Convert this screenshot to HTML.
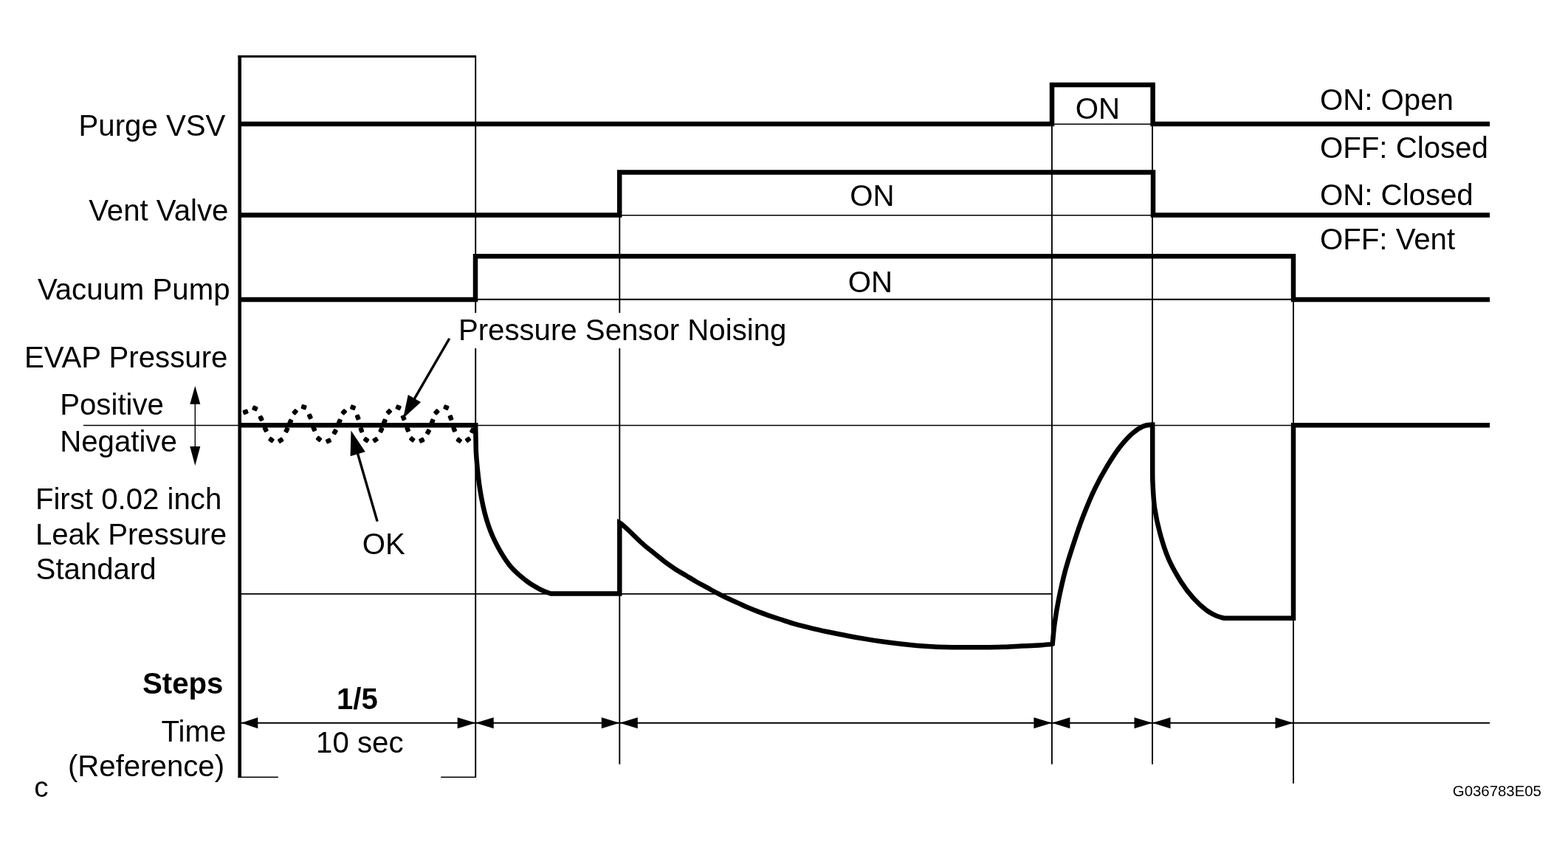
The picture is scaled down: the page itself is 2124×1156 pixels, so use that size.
<!DOCTYPE html>
<html><head><meta charset="utf-8">
<style>
html,body{margin:0;padding:0;background:#fff;}
svg{display:block;}
text{font-family:"Liberation Sans",Arial,Helvetica,sans-serif;fill:#000;}
.t{font-size:40.2px;}
.b{font-size:40.2px;font-weight:bold;}
.c{font-size:38.5px;}
.s{font-size:20.4px;}
.thin{stroke:#000;stroke-width:1.9;fill:none;}
.hair{stroke:#000;stroke-width:1.4;fill:none;}
.thick{stroke:#000;stroke-width:6.5;fill:none;stroke-linejoin:miter;}
.med{stroke:#000;stroke-width:4.6;fill:none;}
</style></head><body>
<svg width="2124" height="1156" viewBox="0 0 2124 1156">
<rect width="2124" height="1156" fill="#fff"/>
<g class="thin">
<line x1="644.2" y1="76" x2="644.2" y2="1053.5"/>
<line x1="839.3" y1="291.6" x2="839.3" y2="1035.7"/>
<line x1="1424.9" y1="167.9" x2="1424.9" y2="1035.7"/>
<line x1="1561.0" y1="167.9" x2="1561.0" y2="1035.7"/>
<line x1="1752.0" y1="405.9" x2="1752.0" y2="1061.8"/>
<line x1="325" y1="979.7" x2="2018" y2="979.7"/>
<line x1="325" y1="804.9" x2="1424.9" y2="804.9"/>
<line x1="644.2" y1="405.79999999999995" x2="1752.0" y2="405.79999999999995"/>
</g>
<g class="hair">
<line x1="1424.9" y1="168.25" x2="1561.0" y2="168.25"/>
<line x1="839.3" y1="291.75" x2="1561.0" y2="291.75"/>
<line x1="113" y1="576.55" x2="1752.0" y2="576.55"/>
<line x1="322.5" y1="1053.3" x2="376.8" y2="1053.3"/>
<line x1="597.2" y1="1053.3" x2="645" y2="1053.3"/>
<line x1="264.3" y1="540" x2="264.3" y2="612"/>
</g>
<line x1="322.5" y1="76.5" x2="645" y2="76.5" stroke="#000" stroke-width="3.2"/>
<line x1="324.7" y1="75" x2="324.7" y2="1053.8" class="med"/>
<path class="thick" d="M325 167.9H1425V115.0H1561.6V167.9H2018"/>
<path class="thick" d="M325 291.6H839.2V233.5H1562V291.6H2018"/>
<path class="thick" d="M325 405.9H644V347.2H1752V405.9H2018"/>
<path class="thick" d="M325 576.25 H644.2 L644.2 577.0 C644.3 580.8 644.4 592.8 644.6 600.0 C644.8 607.2 644.5 609.8 645.4 620.5 C646.3 631.2 648.1 650.3 650.3 664.0 C652.5 677.7 655.3 691.2 658.7 702.9 C662.1 714.6 665.6 723.9 670.9 734.4 C676.1 744.9 683.4 757.2 690.2 765.9 C697.1 774.6 705.1 780.9 712.0 786.4 C718.9 791.9 725.7 795.6 731.4 798.6 C737.1 801.6 743.6 803.6 746.0 804.6 H839.3 V708.3 C843.5 710.5 852.9 720.1 858.2 725.3 C863.5 730.5 867.7 734.5 872.4 738.6 C877.1 742.7 881.8 746.2 886.5 750.0 C891.2 753.8 895.9 757.8 900.6 761.3 C905.3 764.8 910.0 768.1 914.7 771.2 C919.4 774.3 924.2 776.9 928.9 779.7 C933.6 782.5 938.3 785.5 943.0 788.2 C947.7 790.9 952.4 793.3 957.1 795.9 C961.8 798.5 966.5 801.2 971.2 803.7 C975.9 806.2 980.7 808.6 985.4 810.8 C990.1 813.0 994.8 815.0 999.5 817.1 C1004.2 819.2 1008.9 821.5 1013.6 823.5 C1018.3 825.5 1023.0 827.3 1027.7 829.1 C1032.4 830.9 1037.2 832.8 1041.9 834.4 C1046.6 836.0 1050.0 837.1 1056.0 839.0 C1062.0 840.9 1070.2 843.8 1077.7 845.9 C1085.2 848.0 1093.4 849.9 1101.2 851.8 C1109.0 853.6 1117.0 855.4 1124.8 857.0 C1132.6 858.6 1140.4 860.2 1148.3 861.7 C1156.2 863.2 1164.1 864.6 1171.9 865.9 C1179.8 867.2 1187.6 868.4 1195.4 869.5 C1203.2 870.6 1211.2 871.6 1219.0 872.5 C1226.8 873.4 1234.7 874.2 1242.5 874.9 C1250.3 875.6 1258.2 876.1 1266.0 876.5 C1273.8 876.9 1277.8 877.1 1289.6 877.2 C1301.4 877.3 1324.8 877.3 1336.6 877.2 C1348.4 877.1 1352.3 877.1 1360.2 876.8 C1368.1 876.5 1375.9 876.0 1383.7 875.6 C1391.5 875.2 1400.4 874.8 1407.3 874.4 C1414.2 874.0 1422.0 873.2 1424.9 873.0 L1425.7 872.6 C1426.2 868.1 1427.1 855.7 1428.5 845.5 C1429.9 835.3 1431.9 823.1 1434.3 811.2 C1436.7 799.3 1439.5 786.5 1442.8 774.1 C1446.1 761.7 1450.2 749.4 1454.2 737.0 C1458.2 724.6 1462.3 712.3 1467.1 699.9 C1471.9 687.5 1477.3 674.2 1482.8 662.8 C1488.3 651.4 1494.2 640.9 1499.9 631.4 C1505.6 621.9 1511.3 613.1 1517.0 605.7 C1522.7 598.3 1529.0 591.8 1534.2 587.1 C1539.4 582.4 1544.0 579.6 1548.4 577.7 C1552.8 575.8 1558.5 575.9 1560.5 575.5 L1561.2 575.5 V640 C1561.3 642.8 1561.1 648.9 1561.6 657.0 C1562.1 665.1 1562.5 677.5 1564.1 688.5 C1565.7 699.5 1568.2 711.3 1571.3 722.7 C1574.4 734.1 1578.0 746.0 1582.7 757.0 C1587.5 768.0 1594.1 779.4 1599.8 788.4 C1605.5 797.4 1611.3 804.8 1617.0 811.2 C1622.7 817.6 1628.9 823.0 1634.1 826.9 C1639.3 830.8 1644.4 833.1 1648.4 834.9 C1652.4 836.7 1656.4 837.2 1658.0 837.7 H1752 V576.25 H2018"/>
<g fill="#000">
<rect x="-3.6" y="-3.2" width="7.2" height="6.4" rx="1.4" transform="translate(332.6 558.3) rotate(-21)"/>
<rect x="-3.6" y="-3.2" width="7.2" height="6.4" rx="1.4" transform="translate(345.4 553.4) rotate(23)"/>
<rect x="-3.6" y="-3.2" width="7.2" height="6.4" rx="1.4" transform="translate(353.6 567.0) rotate(63)"/>
<rect x="-3.6" y="-3.2" width="7.2" height="6.4" rx="1.4" transform="translate(359.7 581.8) rotate(64)"/>
<rect x="-3.6" y="-3.2" width="7.2" height="6.4" rx="1.4" transform="translate(367.5 596.1) rotate(36)"/>
<rect x="-3.6" y="-3.2" width="7.2" height="6.4" rx="1.4" transform="translate(380.2 596.7) rotate(-33)"/>
<rect x="-3.6" y="-3.2" width="7.2" height="6.4" rx="1.4" transform="translate(388.4 582.7) rotate(-62)"/>
<rect x="-3.6" y="-3.2" width="7.2" height="6.4" rx="1.4" transform="translate(393.3 571.7) rotate(-65)"/>
<rect x="-3.6" y="-3.2" width="7.2" height="6.4" rx="1.4" transform="translate(399.7 558.3) rotate(-48)"/>
<rect x="-3.6" y="-3.2" width="7.2" height="6.4" rx="1.4" transform="translate(411.6 551.7) rotate(17)"/>
<rect x="-3.6" y="-3.2" width="7.2" height="6.4" rx="1.4" transform="translate(419.8 564.4) rotate(65)"/>
<rect x="-3.6" y="-3.2" width="7.2" height="6.4" rx="1.4" transform="translate(425.3 581.0) rotate(68)"/>
<rect x="-3.6" y="-3.2" width="7.2" height="6.4" rx="1.4" transform="translate(432.0 594.9) rotate(40)"/>
<rect x="-3.6" y="-3.2" width="7.2" height="6.4" rx="1.4" transform="translate(445.0 597.5) rotate(-24)"/>
<rect x="-3.6" y="-3.2" width="7.2" height="6.4" rx="1.4" transform="translate(453.7 585.3) rotate(-60)"/>
<rect x="-3.6" y="-3.2" width="7.2" height="6.4" rx="1.4" transform="translate(459.8 571.4) rotate(-66)"/>
<rect x="-3.6" y="-3.2" width="7.2" height="6.4" rx="1.4" transform="translate(465.9 558.3) rotate(-46)"/>
<rect x="-3.6" y="-3.2" width="7.2" height="6.4" rx="1.4" transform="translate(478.1 552.2) rotate(21)"/>
<rect x="-3.6" y="-3.2" width="7.2" height="6.4" rx="1.4" transform="translate(484.7 565.6) rotate(70)"/>
<rect x="-3.6" y="-3.2" width="7.2" height="6.4" rx="1.4" transform="translate(489.4 582.7) rotate(70)"/>
<rect x="-3.6" y="-3.2" width="7.2" height="6.4" rx="1.4" transform="translate(496.1 596.1) rotate(35)"/>
<rect x="-3.6" y="-3.2" width="7.2" height="6.4" rx="1.4" transform="translate(508.6 596.1) rotate(-33)"/>
<rect x="-3.6" y="-3.2" width="7.2" height="6.4" rx="1.4" transform="translate(516.4 582.7) rotate(-64)"/>
<rect x="-3.6" y="-3.2" width="7.2" height="6.4" rx="1.4" transform="translate(520.8 571.4) rotate(-67)"/>
<rect x="-3.6" y="-3.2" width="7.2" height="6.4" rx="1.4" transform="translate(526.9 558.0) rotate(-46)"/>
<rect x="-3.6" y="-3.2" width="7.2" height="6.4" rx="1.4" transform="translate(539.6 552.2) rotate(23)"/>
<rect x="-3.6" y="-3.2" width="7.2" height="6.4" rx="1.4" transform="translate(546.6 566.2) rotate(67)"/>
<rect x="-3.6" y="-3.2" width="7.2" height="6.4" rx="1.4" transform="translate(552.2 581.8) rotate(68)"/>
<rect x="-3.6" y="-3.2" width="7.2" height="6.4" rx="1.4" transform="translate(558.3 595.3) rotate(38)"/>
<rect x="-3.6" y="-3.2" width="7.2" height="6.4" rx="1.4" transform="translate(571.3 596.7) rotate(-25)"/>
<rect x="-3.6" y="-3.2" width="7.2" height="6.4" rx="1.4" transform="translate(580.0 585.3) rotate(-61)"/>
<rect x="-3.6" y="-3.2" width="7.2" height="6.4" rx="1.4" transform="translate(585.6 571.4) rotate(-67)"/>
<rect x="-3.6" y="-3.2" width="7.2" height="6.4" rx="1.4" transform="translate(591.4 558.3) rotate(-46)"/>
<rect x="-3.6" y="-3.2" width="7.2" height="6.4" rx="1.4" transform="translate(604.4 552.2) rotate(22)"/>
<rect x="-3.6" y="-3.2" width="7.2" height="6.4" rx="1.4" transform="translate(610.5 566.2) rotate(70)"/>
<rect x="-3.6" y="-3.2" width="7.2" height="6.4" rx="1.4" transform="translate(615.2 581.8) rotate(70)"/>
<rect x="-3.6" y="-3.2" width="7.2" height="6.4" rx="1.4" transform="translate(621.8 596.7) rotate(37)"/>
<rect x="-3.6" y="-3.2" width="7.2" height="6.4" rx="1.4" transform="translate(634.0 595.8) rotate(-36)"/>
<rect x="-3.6" y="-3.2" width="7.2" height="6.4" rx="1.4" transform="translate(640.1 583.6) rotate(-63)"/>
</g>
<line x1="608.75" y1="458.75" x2="556" y2="549.6" stroke="#000" stroke-width="3.4"/>
<line x1="511.1" y1="706.6" x2="482" y2="606" stroke="#000" stroke-width="3.4"/>
<g fill="#000">
<polygon points="326.8,979.7 349.3,972.2 349.3,987.2"/>
<polygon points="644.2,979.7 619.7,987.2 619.7,972.2"/>
<polygon points="644.2,979.7 668.7,972.2 668.7,987.2"/>
<polygon points="839.3,979.7 814.8,987.2 814.8,972.2"/>
<polygon points="839.3,979.7 863.8,972.2 863.8,987.2"/>
<polygon points="1424.9,979.7 1400.4,987.2 1400.4,972.2"/>
<polygon points="1424.9,979.7 1449.4,972.2 1449.4,987.2"/>
<polygon points="1561.0,979.7 1536.5,987.2 1536.5,972.2"/>
<polygon points="1561.0,979.7 1585.5,972.2 1585.5,987.2"/>
<polygon points="1752.0,979.7 1727.5,987.2 1727.5,972.2"/>
<polygon points="264.3,523.0 271.3,547.7 257.3,547.7"/>
<polygon points="264.3,631.0 257.3,605.0 271.3,605.0"/>
<polygon points="546.0,567.0 552.8,535.1 570.1,545.1"/>
<polygon points="475.5,583.6 494.8,612.3 474.6,618.2"/>
</g>
<text class="t" x="106.57" y="184.00">Purge VSV</text>
<text class="t" x="120.21" y="299.00">Vent Valve</text>
<text class="t" x="50.92" y="405.50">Vacuum Pump</text>
<text class="t" x="32.88" y="498.00">EVAP Pressure</text>
<text class="t" x="81.21" y="562.30">Positive</text>
<text class="t" x="81.21" y="612.40">Negative</text>
<text class="t" x="47.88" y="689.75">First 0.02 inch</text>
<text class="t" x="47.88" y="737.75">Leak Pressure</text>
<text class="t" x="48.59" y="785.25">Standard</text>
<text class="b" x="192.94" y="940.25">Steps</text>
<text class="t" x="218.50" y="1004.50">Time</text>
<text class="t" x="91.90" y="1051.50">(Reference)</text>
<text class="b" x="456.01" y="960.80">1/5</text>
<text class="t" x="428.12" y="1019.90">10 sec</text>
<text class="t" x="490.70" y="751.10">OK</text>
<rect x="619" y="424" width="450" height="48" fill="#fff"/>
<text class="t" x="620.88" y="460.50">Pressure Sensor Noising</text>
<text class="t" x="1456.84" y="161.25">ON</text>
<text class="t" x="1151.31" y="279.25">ON</text>
<text class="t" x="1148.87" y="395.90">ON</text>
<text class="t" x="1788.00" y="148.75">ON: Open</text>
<text class="t" x="1788.00" y="213.75">OFF: Closed</text>
<text class="t" x="1788.00" y="278.00">ON: Closed</text>
<text class="t" x="1788.00" y="337.50">OFF: Vent</text>
<text class="c" x="46.33" y="1080.30">c</text>
<text class="s" x="1967.77" y="1078.70">G036783E05</text>
</svg>
</body></html>
